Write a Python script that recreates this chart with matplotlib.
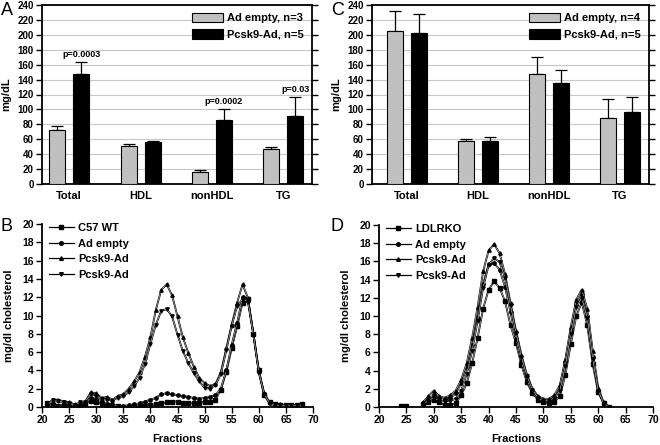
import numpy as np
import matplotlib
matplotlib.use("Agg")
import matplotlib.pyplot as plt
import matplotlib.patheffects as pe

plt.rcParams['font.family'] = ['Liberation Sans', 'DejaVu Sans']
plt.rcParams['font.weight'] = 'bold'

# --- bar data (mg/dL) ---
categories = ['Total', 'HDL', 'nonHDL', 'TG']

a_empty = [72, 51, 16, 47]
a_empty_err = [6, 2, 3, 2]
a_pcsk9 = [147, 56, 86, 91]
a_pcsk9_err = [16, 2, 14, 25]
a_pvals = ['p=0.0003', None, 'p=0.0002', 'p=0.03']
a_labels = ['Ad empty, n=3', 'Pcsk9-Ad, n=5']

c_empty = [205, 58, 147, 89]
c_empty_err = [27, 3, 23, 25]
c_pcsk9 = [202, 58, 135, 96]
c_pcsk9_err = [26, 5, 18, 20]
c_labels = ['Ad empty, n=4', 'Pcsk9-Ad, n=5']

# --- FPLC profiles (mg/dl cholesterol per fraction) ---
b_fractions = list(range(21, 69))
b_c57 = [0.4, 0.2, 0.1, 0.2, 0.2, 0.1, 0.2, 0.3, 0.7, 0.6, 0.3, 0.2, 0.1, 0.1, 0.0, 0.0,
         0.0, 0.1, 0.1, 0.2, 0.3, 0.4, 0.5, 0.6, 0.6, 0.4, 0.4, 0.4, 0.4, 0.6, 0.5, 0.8,
         1.9, 3.8, 6.4, 8.8, 11.4, 11.8, 8.0, 4.0, 1.3, 0.5, 0.3, 0.2, 0.2, 0.2, 0.2, 0.3]
b_empty = [0.2, 0.2, 0.1, 0.3, 0.2, 0.2, 0.3, 0.4, 1.0, 0.9, 0.6, 0.3, 0.3, 0.1, 0.1, 0.2,
           0.3, 0.4, 0.6, 0.8, 1.0, 1.4, 1.5, 1.4, 1.3, 1.2, 1.1, 1.0, 0.9, 1.0, 1.1, 1.3,
           2.0, 4.0, 6.8, 9.2, 12.0, 11.6, 8.0, 3.8, 1.3, 0.4, 0.3, 0.2, 0.2, 0.1, 0.1, 0.2]
b_pcsk9_a = [0.3, 0.8, 0.8, 0.6, 0.5, 0.3, 0.4, 0.6, 1.6, 1.5, 1.0, 1.1, 0.8, 1.2, 1.4, 2.0,
             2.8, 3.8, 5.5, 7.6, 10.6, 12.8, 13.4, 12.2, 9.9, 7.6, 5.9, 4.4, 3.2, 2.6, 2.3, 2.5,
             3.8, 6.4, 9.0, 11.4, 13.4, 11.9, 8.0, 4.0, 1.5, 0.5, 0.3, 0.3, 0.2, 0.2, 0.2, 0.3]
b_pcsk9_b = [0.2, 0.8, 0.7, 0.5, 0.4, 0.2, 0.5, 0.6, 1.4, 1.2, 0.9, 0.8, 0.7, 1.0, 1.2, 1.6,
             2.3, 3.2, 4.7, 6.9, 9.0, 10.5, 10.7, 9.9, 7.9, 6.1, 4.8, 3.7, 2.8, 2.1, 2.0, 2.4,
             3.6, 6.2, 8.9, 11.0, 11.8, 11.5, 7.9, 3.8, 1.4, 0.4, 0.2, 0.2, 0.2, 0.2, 0.2, 0.2]
b_labels = ['C57 WT', 'Ad empty', 'Pcsk9-Ad', 'Pcsk9-Ad']

d_fractions = list(range(24, 63))
nan = np.nan
d_ldlrko = [0.1, 0.1, nan, nan, 0.3, 0.5, 0.8, 0.5, 0.2, 0.2, 0.4, 1.3, 2.6, 4.8, 7.6, 10.8,
            12.9, 13.8, 13.1, 11.6, 9.0, 7.0, 4.6, 2.7, 1.5, 0.8, 0.5, 0.4, 0.6, 1.2, 3.5,
            6.9, 10.0, 11.5, 9.0, 4.7, 1.6, 0.4, 0.0]
d_empty = [nan, nan, nan, nan, 0.4, 0.9, 1.3, 1.0, 0.9, 1.0, 1.5, 2.6, 4.4, 6.8, 9.8, 13.5,
           15.7, 15.8, 15.1, 13.2, 10.4, 7.5, 5.0, 3.0, 1.6, 0.9, 0.6, 0.7, 1.0, 2.2, 5.0,
           8.4, 11.3, 12.4, 10.0, 5.5, 1.8, 0.4, 0.0]
d_pcsk9_a = [nan, nan, nan, nan, 0.5, 1.2, 1.8, 1.2, 1.0, 1.3, 1.8, 3.0, 4.8, 7.6, 11.0, 14.9,
             17.2, 17.9, 16.9, 14.6, 11.4, 8.4, 5.7, 3.5, 2.0, 1.2, 0.9, 0.9, 1.3, 2.4, 5.2,
             8.8, 11.8, 12.9, 10.8, 6.2, 2.1, 0.5, 0.0]
d_pcsk9_b = [nan, nan, nan, nan, 0.3, 0.7, 1.0, 0.7, 0.6, 0.7, 0.9, 1.8, 3.6, 6.2, 9.5, 13.1,
             15.6, 16.4, 15.9, 14.2, 11.2, 8.1, 5.5, 3.4, 1.9, 1.0, 0.7, 0.7, 1.0, 1.8, 4.5,
             8.0, 11.0, 12.0, 9.8, 5.3, 1.8, 0.4, 0.0]
d_labels = ['LDLRKO', 'Ad empty', 'Pcsk9-Ad', 'Pcsk9-Ad']

markers = ['s', 'o', '^', 'v']

W, H = 660, 445
fig = plt.figure(figsize=(W / 100, H / 100), dpi=100)


def px_axes(left, top, right, bottom):
    return fig.add_axes([left / W, 1 - bottom / H, (right - left) / W, (bottom - top) / H])


def bar_panel(ax, empty, empty_err, pcsk9, pcsk9_err, labels, xlim, pvals=None):
    x = np.arange(len(categories))
    off, w = 0.168, 0.225
    ax.bar(x - off, empty, w, color='#c0c0c0', edgecolor='black', linewidth=0.8, zorder=3,
           label=labels[0])
    ax.bar(x + off, pcsk9, w, color='black', edgecolor='black', linewidth=0.8, zorder=3,
           label=labels[1])
    ax.errorbar(x - off, empty, yerr=[np.zeros(4), empty_err], fmt='none', ecolor='black',
                elinewidth=0.9, capsize=4, capthick=0.9, zorder=2)
    ax.errorbar(x + off, pcsk9, yerr=[np.zeros(4), pcsk9_err], fmt='none', ecolor='black',
                elinewidth=0.9, capsize=4, capthick=0.9, zorder=2)
    if pvals:
        for xi, v, e, p in zip(x, pcsk9, pcsk9_err, pvals):
            if p:
                ax.text(xi + off, v + e + 4, p, ha='center', va='bottom', fontsize=6.5,
                        fontweight='bold')
    ax.set_xlim(*xlim)
    ax.set_ylim(0, 240)
    ax.set_yticks(range(0, 241, 20))
    ax.set_xticks(x)
    ax.set_xticklabels(categories, fontsize=8, fontweight='bold')
    ax.tick_params(axis='x', length=0, pad=5)
    ax.tick_params(axis='y', labelsize=7, length=4, width=1, right=True, direction='out',
                   pad=2)
    ax.yaxis.grid(True, color='#c8c8c8', linewidth=0.8, zorder=0)
    ax.set_ylabel('mg/dL', fontsize=8, fontweight='bold', labelpad=4)
    for s in ax.spines.values():
        s.set_linewidth(1.3)
    leg = ax.legend(loc='upper right', frameon=False, fontsize=8, handlelength=2.8,
                    handleheight=0.9, borderaxespad=0.3, labelspacing=0.55, handletextpad=0.4)
    for t in leg.get_texts():
        t.set_fontweight('bold')


hollow = [pe.Stroke(linewidth=1.3, foreground='black'),
          pe.Normal()]


def line_panel(ax, xs, series, labels):
    for ys, m, lab in zip(series, markers, labels):
        ax.plot(xs, ys, color='#f4f4f4', linewidth=0.35, path_effects=hollow)
        ax.plot(xs, ys, linestyle='none', marker=m, markersize=2.4, color='black')
        ax.plot([], [], color='black', linewidth=0.9, marker=m, markersize=2.6, label=lab)
    ax.set_xlim(20, 70)
    ax.set_ylim(0, 20)
    ax.set_xticks(range(20, 71, 5))
    ax.set_yticks(range(0, 21, 2))
    ax.tick_params(labelsize=7.5, length=4, width=1, direction='out', pad=2)
    for lab in ax.get_xticklabels() + ax.get_yticklabels():
        lab.set_fontweight('bold')
    ax.spines['top'].set_visible(False)
    ax.spines['right'].set_visible(False)
    ax.spines['left'].set_linewidth(1.3)
    ax.spines['bottom'].set_linewidth(1.3)
    ax.set_xlabel('Fractions', fontsize=8, fontweight='bold', labelpad=6)
    ax.set_ylabel('mg/dl cholesterol', fontsize=8, fontweight='bold', labelpad=6)
    leg = ax.legend(loc='upper left', frameon=False, fontsize=8, handlelength=2.2,
                    borderaxespad=0.0, labelspacing=0.5, handletextpad=0.4,
                    bbox_to_anchor=(0.01, 1.03))
    for t in leg.get_texts():
        t.set_fontweight('bold')


ax_a = px_axes(42, 5, 312, 184)
bar_panel(ax_a, a_empty, a_empty_err, a_pcsk9, a_pcsk9_err, a_labels, (-0.38, 3.40), a_pvals)

ax_c = px_axes(372, 5, 649, 184)
bar_panel(ax_c, c_empty, c_empty_err, c_pcsk9, c_pcsk9_err, c_labels, (-0.49, 3.41))

ax_b = px_axes(42, 224, 313, 407)
line_panel(ax_b, b_fractions, [b_c57, b_empty, b_pcsk9_a, b_pcsk9_b], b_labels)

ax_d = px_axes(379, 225, 653, 407)
line_panel(ax_d, d_fractions, [d_ldlrko, d_empty, d_pcsk9_a, d_pcsk9_b], d_labels)

for letter, xp, yp in [('A', 1, 2), ('C', 331, 2), ('B', 1, 218), ('D', 331, 218)]:
    fig.text(xp / W, 1 - yp / H, letter, fontsize=13, fontweight='normal', va='top', ha='left')

fig.savefig('out.png', dpi=100)
